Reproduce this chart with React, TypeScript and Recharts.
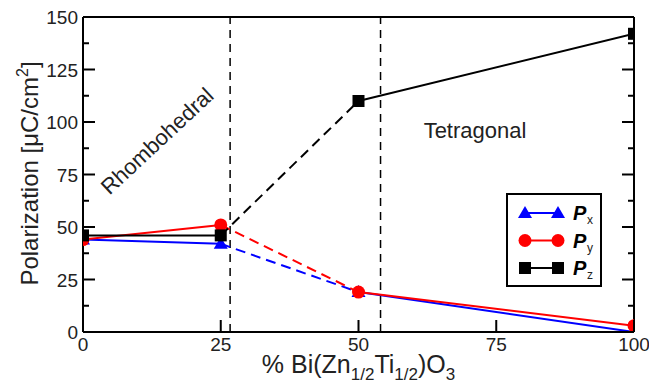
import React from 'react';
import { LineChart, Line, XAxis, YAxis, ReferenceLine } from 'recharts';

// % Bi(Zn1/2Ti1/2)O3 content
const composition = [0, 25, 50, 100];
const polX = [44, 42, 19, 0];
const polY = [44, 51, 19, 3];
const polZ = [46, 46, 110, 142];

const xTicks = [0, 25, 50, 75, 100];
const yTicks = [0, 12.5, 25, 37.5, 50, 62.5, 75, 87.5, 100, 112.5, 125, 137.5, 150];
const phaseBoundaries = [26.7, 54];

const INK = '#222';
const FONT = '"Liberation Sans", Arial, Helvetica, sans-serif';

type Marker = 'triangle' | 'circle' | 'square';

const seriesList = [
  { key: 'px', sub: 'x', values: polX, color: '#0000ff', marker: 'triangle' as Marker },
  { key: 'py', sub: 'y', values: polY, color: '#ff0000', marker: 'circle' as Marker },
  { key: 'pz', sub: 'z', values: polZ, color: '#000000', marker: 'square' as Marker },
];

const toPoints = (values: number[], from: number, to: number) =>
  composition.slice(from, to + 1).map((x, i) => ({ x, v: values[from + i] }));

const MarkerShape = ({ cx, cy, type, color }: { cx: number; cy: number; type: Marker; color: string }) => {
  if (type === 'triangle') {
    return <polygon points={`${cx},${cy - 7} ${cx - 7},${cy + 5} ${cx + 7},${cy + 5}`} fill={color} />;
  }
  if (type === 'circle') {
    return <circle cx={cx} cy={cy} r={6.5} fill={color} />;
  }
  return <rect x={cx - 6} y={cy - 6} width={12} height={12} fill={color} />;
};

const majorY = (v: number) => v % 25 === 0;

const LeftTick = (props: any) => {
  const { x, y, payload } = props;
  const major = majorY(payload.value);
  return (
    <g>
      <line x1={x} x2={x + (major ? 12 : 6)} y1={y} y2={y} stroke="#000" strokeWidth={2} />
      {major && (
        <text x={x - 5} y={y + 7} textAnchor="end" fontSize={19} fill={INK} fontFamily={FONT}>
          {payload.value}
        </text>
      )}
    </g>
  );
};

const RightTick = (props: any) => {
  const { x, y, payload } = props;
  const major = majorY(payload.value);
  return <line x1={x} x2={x - (major ? 12 : 6)} y1={y} y2={y} stroke="#000" strokeWidth={2} />;
};

const BottomTick = (props: any) => {
  const { x, y, payload } = props;
  return (
    <g>
      <line x1={x} x2={x} y1={y} y2={y - 12} stroke="#000" strokeWidth={2} />
      <text x={x} y={y + 19} textAnchor="middle" fontSize={19} fill={INK} fontFamily={FONT}>
        {payload.value}
      </text>
    </g>
  );
};

const TopTick = (props: any) => {
  const { x, y } = props;
  return <line x1={x} x2={x} y1={y} y2={y + 12} stroke="#000" strokeWidth={2} />;
};

const LegendBox = () => (
  <svg width={96} height={94} style={{ position: 'absolute', left: 506, top: 193 }}>
    <rect x={1} y={1} width={94} height={92} fill="#fff" stroke="#000" strokeWidth={2} />
    {seriesList.map((s, i) => {
      const cy = 20 + i * 27.5;
      return (
        <g key={s.key}>
          <line x1={19} x2={52} y1={cy} y2={cy} stroke={s.color} strokeWidth={2} />
          <MarkerShape cx={19} cy={cy} type={s.marker} color={s.color} />
          <MarkerShape cx={52} cy={cy} type={s.marker} color={s.color} />
          <text x={67} y={cy + 7} fontSize={20} fontWeight="bold" fontStyle="italic" fill="#000" fontFamily={FONT}>
            P
          </text>
          <text x={81} y={cy + 11} fontSize={12} fill={INK} fontFamily={FONT}>
            {s.sub}
          </text>
        </g>
      );
    })}
  </svg>
);

const Annotations = () => (
  <svg
    width={649}
    height={383}
    style={{ position: 'absolute', left: 0, top: 0, pointerEvents: 'none' }}
    fontFamily={FONT}
    fill={INK}
  >
    <text transform="translate(38,173.5) rotate(-90)" textAnchor="middle" fontSize={24}>
      Polarization [μC/cm
      <tspan fontSize={16} dy={-10}>2</tspan>
      <tspan dy={10}>]</tspan>
    </text>
    <text x={358.5} y={373} textAnchor="middle" fontSize={25}>
      % Bi(Zn
      <tspan fontSize={17} dy={7}>1/2</tspan>
      <tspan dy={-7}>Ti</tspan>
      <tspan fontSize={17} dy={7}>1/2</tspan>
      <tspan dy={-7}>)O</tspan>
      <tspan fontSize={17} dy={7}>3</tspan>
    </text>
    <text
      transform="translate(157,141) rotate(-43)"
      textAnchor="middle"
      dy="0.35em"
      fontSize={22}
    >
      Rhombohedral
    </text>
    <text x={475} y={138} textAnchor="middle" fontSize={22}>
      Tetragonal
    </text>
  </svg>
);

export default function App() {
  return (
    <div
      style={{
        position: 'absolute',
        left: 0,
        top: 0,
        width: 649,
        height: 383,
        background: '#fff',
        fontFamily: FONT,
      }}
    >
      <LineChart width={649} height={383} margin={{ top: 16, right: 14, left: 23, bottom: 21 }}>
        <XAxis
          dataKey="x"
          type="number"
          domain={[0, 100]}
          ticks={xTicks}
          height={30}
          tickSize={0}
          tickMargin={0}
          tickLine={false}
          tick={<BottomTick />}
          axisLine={{ stroke: '#000', strokeWidth: 2 }}
          allowDataOverflow
        />
        <XAxis
          xAxisId="top"
          orientation="top"
          type="number"
          domain={[0, 100]}
          ticks={xTicks}
          height={1}
          tickSize={0}
          tickMargin={0}
          tickLine={false}
          tick={<TopTick />}
          axisLine={{ stroke: '#000', strokeWidth: 2 }}
          allowDataOverflow
        />
        <YAxis
          type="number"
          domain={[0, 150]}
          ticks={yTicks}
          width={60}
          tickSize={0}
          tickMargin={0}
          tickLine={false}
          tick={<LeftTick />}
          interval={0}
          axisLine={{ stroke: '#000', strokeWidth: 2 }}
          allowDataOverflow
        />
        <YAxis
          yAxisId="right"
          orientation="right"
          type="number"
          domain={[0, 150]}
          ticks={yTicks}
          width={1}
          tickSize={0}
          tickMargin={0}
          tickLine={false}
          tick={<RightTick />}
          interval={0}
          axisLine={{ stroke: '#000', strokeWidth: 2 }}
          allowDataOverflow
        />

        {phaseBoundaries.map((b) => (
          <ReferenceLine key={b} x={b} stroke="#000" strokeWidth={1.5} strokeDasharray="8 6" />
        ))}

        {seriesList.flatMap((s) => [
          <Line
            key={`${s.key}-a`}
            data={toPoints(s.values, 0, 1)}
            dataKey="v"
            stroke={s.color}
            strokeWidth={2}
            dot={false}
            activeDot={false}
            isAnimationActive={false}
          />,
          <Line
            key={`${s.key}-b`}
            data={toPoints(s.values, 1, 2)}
            dataKey="v"
            stroke={s.color}
            strokeWidth={2}
            strokeDasharray="10 6"
            dot={false}
            activeDot={false}
            isAnimationActive={false}
          />,
          <Line
            key={`${s.key}-c`}
            data={toPoints(s.values, 2, 3)}
            dataKey="v"
            stroke={s.color}
            strokeWidth={2}
            dot={false}
            activeDot={false}
            isAnimationActive={false}
          />,
          <Line
            key={`${s.key}-dots`}
            data={toPoints(s.values, 0, 3)}
            dataKey="v"
            stroke="none"
            activeDot={false}
            isAnimationActive={false}
            dot={(p: any) => (
              <MarkerShape key={`${s.key}-m-${p.index}`} cx={p.cx} cy={p.cy} type={s.marker} color={s.color} />
            )}
          />,
        ])}
      </LineChart>

      <Annotations />
      <LegendBox />
    </div>
  );
}
